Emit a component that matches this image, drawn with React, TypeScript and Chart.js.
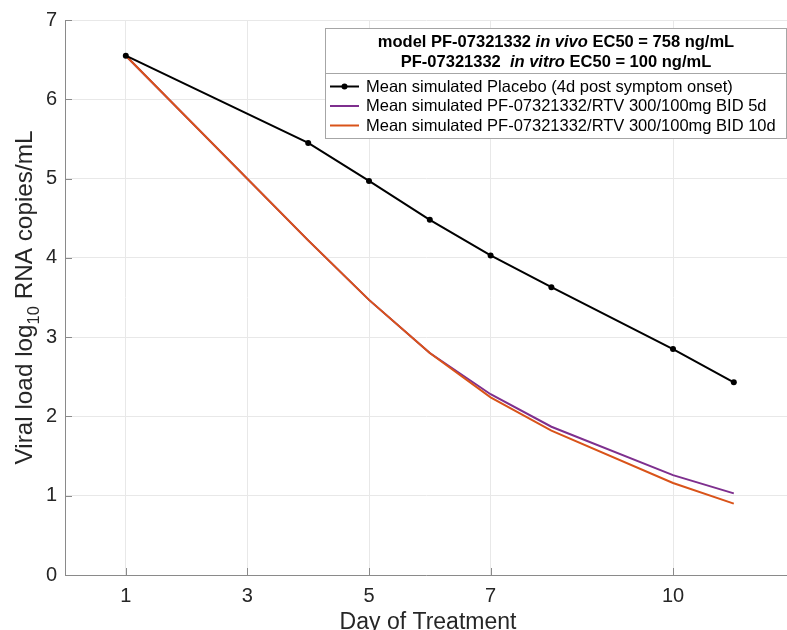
import { useEffect, useRef } from 'react';
import { Chart, registerables } from 'chart.js';
Chart.register(...registerables);

const days = [1, 4, 5, 6, 7, 8, 10, 11];
const placebo = [6.55, 5.45, 4.97, 4.48, 4.03, 3.63, 2.85, 2.43];
const bid5d = [6.55, 4.22, 3.47, 2.8, 2.28, 1.87, 1.26, 1.03];
const bid10d = [6.55, 4.22, 3.47, 2.8, 2.24, 1.82, 1.16, 0.9];
const xTicks = [1, 3, 5, 7, 10];
const yTicks = [0, 1, 2, 3, 4, 5, 6, 7];
const seriesLabels = [
  'Mean simulated Placebo (4d post symptom onset)',
  'Mean simulated PF-07321332/RTV 300/100mg BID 5d',
  'Mean simulated PF-07321332/RTV 300/100mg BID 10d',
];
const seriesColors = ['#000000', '#7E2F8E', '#D95319'];
const legendTitle1 = [
  { t: 'model PF-07321332 ', i: false },
  { t: 'in vivo', i: true },
  { t: ' EC50 = 758 ng/mL', i: false },
];
const legendTitle2 = [
  { t: 'PF-07321332  ', i: false },
  { t: 'in vitro', i: true },
  { t: ' EC50 = 100 ng/mL', i: false },
];
const xTitle = 'Day of Treatment';
const yTitleParts = ['Viral load log', '10', ' RNA copies/mL'];

const FF = "'Liberation Sans', Arial, Helvetica, sans-serif";
const AXIS = '#8a8a8a';
const GRID = '#e8e8e8';
const TXT = '#262626';

const decorPlugin = {
  id: 'decor',
  afterDraw(chart: any) {
    const ctx = chart.ctx as CanvasRenderingContext2D;
    const ca = chart.chartArea;
    const xs = chart.scales.x;
    const ys = chart.scales.y;
    ctx.save();
    // inner ticks
    ctx.strokeStyle = AXIS;
    ctx.lineWidth = 1;
    for (const v of xTicks) {
      const px = Math.round(xs.getPixelForValue(v)) + 0.5;
      ctx.beginPath();
      ctx.moveTo(px, ca.bottom);
      ctx.lineTo(px, ca.bottom - 7);
      ctx.stroke();
    }
    for (const v of yTicks) {
      const py = Math.round(ys.getPixelForValue(v)) + 0.5;
      ctx.beginPath();
      ctx.moveTo(ca.left, py);
      ctx.lineTo(ca.left + 7, py);
      ctx.stroke();
    }

    // x title
    ctx.fillStyle = TXT;
    ctx.font = `23px ${FF}`;
    ctx.textAlign = 'center';
    ctx.textBaseline = 'alphabetic';
    ctx.fillText(xTitle, 428, 629);

    // y title with subscript
    ctx.save();
    ctx.translate(32, (ca.top + ca.bottom) / 2);
    ctx.rotate(-Math.PI / 2);
    ctx.textAlign = 'left';
    const big = `24.3px ${FF}`;
    const small = `16.5px ${FF}`;
    ctx.font = big;
    const w0 = ctx.measureText(yTitleParts[0]).width;
    const w2 = ctx.measureText(yTitleParts[2]).width;
    ctx.font = small;
    const w1 = ctx.measureText(yTitleParts[1]).width;
    let cx = -(w0 + w1 + w2) / 2;
    ctx.font = big;
    ctx.fillText(yTitleParts[0], cx, 0);
    cx += w0;
    ctx.font = small;
    ctx.fillText(yTitleParts[1], cx, 7);
    cx += w1;
    ctx.font = big;
    ctx.fillText(yTitleParts[2], cx, 0);
    ctx.restore();

    // legend box
    const L = 325.5, R = 786.5, T = 28.5, B = 138.5, SEP = 73.5;
    ctx.fillStyle = '#ffffff';
    ctx.fillRect(L, T, R - L, B - T);
    ctx.strokeStyle = '#a6a6a6';
    ctx.lineWidth = 1;
    ctx.strokeRect(L, T, R - L, B - T);
    ctx.beginPath();
    ctx.moveTo(L, SEP);
    ctx.lineTo(R, SEP);
    ctx.stroke();

    const drawMixed = (parts: { t: string; i: boolean }[], y: number) => {
      const fonts = parts.map((p) => `${p.i ? 'italic ' : ''}bold 16.5px ${FF}`);
      let total = 0;
      const ws = parts.map((p, k) => {
        ctx.font = fonts[k];
        const w = ctx.measureText(p.t).width;
        total += w;
        return w;
      });
      let x = (L + R) / 2 - total / 2;
      ctx.textAlign = 'left';
      ctx.textBaseline = 'middle';
      ctx.fillStyle = '#000000';
      parts.forEach((p, k) => {
        ctx.font = fonts[k];
        ctx.fillText(p.t, x, y);
        x += ws[k];
      });
    };
    drawMixed(legendTitle1, 42.5);
    drawMixed(legendTitle2, 62.5);

    const rows = [86.5, 106, 125.5];
    seriesLabels.forEach((lab, k) => {
      const y = rows[k];
      ctx.strokeStyle = seriesColors[k];
      ctx.lineWidth = 2;
      ctx.beginPath();
      ctx.moveTo(330, y);
      ctx.lineTo(359, y);
      ctx.stroke();
      if (k === 0) {
        ctx.fillStyle = seriesColors[k];
        ctx.beginPath();
        ctx.arc(344.5, y, 3, 0, Math.PI * 2);
        ctx.fill();
      }
      ctx.fillStyle = '#000000';
      ctx.font = `16.5px ${FF}`;
      ctx.textAlign = 'left';
      ctx.textBaseline = 'middle';
      ctx.fillText(lab, 366, y + 0.5);
    });
    ctx.restore();
  },
};

export default function App() {
  const ref = useRef<HTMLCanvasElement | null>(null);
  useEffect(() => {
    document.body.style.margin = '0';
    if (!ref.current) return;
    const mk = (ys: number[]) => days.map((d, i) => ({ x: d, y: ys[i] }));
    const chart = new Chart(ref.current, {
      type: 'line',
      data: {
        datasets: [
          {
            label: seriesLabels[0],
            data: mk(placebo),
            borderColor: seriesColors[0],
            backgroundColor: seriesColors[0],
            borderWidth: 2,
            pointRadius: 3,
            pointBorderWidth: 0,
            pointBackgroundColor: seriesColors[0],
            order: 0,
          },
          {
            label: seriesLabels[1],
            data: mk(bid5d),
            borderColor: seriesColors[1],
            backgroundColor: seriesColors[1],
            borderWidth: 2,
            pointRadius: 0,
            order: 2,
          },
          {
            label: seriesLabels[2],
            data: mk(bid10d),
            borderColor: seriesColors[2],
            backgroundColor: seriesColors[2],
            borderWidth: 2,
            pointRadius: 0,
            order: 1,
          },
        ],
      },
      options: {
        animation: false,
        responsive: false,
        layout: { autoPadding: false, padding: { top: 20, right: 0, left: 0, bottom: 0 } },
        plugins: { legend: { display: false }, tooltip: { enabled: false } },
        scales: {
          x: {
            type: 'linear',
            min: 0,
            max: 11.875,
            afterBuildTicks: (s: any) => {
              s.ticks = xTicks.map((v) => ({ value: v }));
            },
            afterFit: (s: any) => {
              s.height = 55;
              s.paddingRight = 0;
              s.paddingLeft = 0;
            },
            grid: { color: GRID, drawTicks: false },
            border: { display: true, color: AXIS },
            ticks: {
              color: TXT,
              font: { family: FF, size: 20 },
              padding: 9,
              maxRotation: 0,
              autoSkip: false,
            },
          },
          y: {
            type: 'linear',
            min: 0,
            max: 7,
            afterBuildTicks: (s: any) => {
              s.ticks = yTicks.map((v) => ({ value: v }));
            },
            afterFit: (s: any) => {
              s.width = 65;
              s.paddingTop = 0;
              s.paddingBottom = 0;
            },
            grid: { color: GRID, drawTicks: false },
            border: { display: true, color: AXIS },
            ticks: {
              color: TXT,
              font: { family: FF, size: 20 },
              padding: 8,
              autoSkip: false,
            },
          },
        },
      },
      plugins: [decorPlugin],
    });
    return () => chart.destroy();
  }, []);
  return (
    <div style={{ position: 'absolute', left: 0, top: 0, width: 787, height: 630 }}>
      <canvas ref={ref} width={787} height={630} />
    </div>
  );
}
